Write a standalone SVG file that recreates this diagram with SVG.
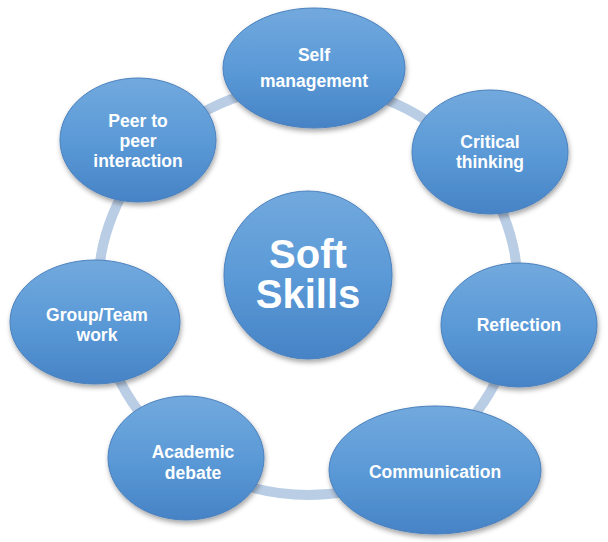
<svg xmlns="http://www.w3.org/2000/svg" width="608" height="542" viewBox="0 0 608 542">
<defs>
<linearGradient id="g" x1="0" y1="0" x2="0" y2="1">
<stop offset="0" stop-color="#72a9dd"/>
<stop offset="0.5" stop-color="#5b9ad7"/>
<stop offset="1" stop-color="#4683c6"/>
</linearGradient>
<filter id="sh" x="-20%" y="-20%" width="140%" height="140%"><feDropShadow dx="1" dy="3" stdDeviation="2.5" flood-color="#000" flood-opacity="0.35"/></filter>
</defs>
<style>
.n{fill:url(#g);stroke:#4a80bd;stroke-width:1;filter:url(#sh)}
.t{font-family:"Liberation Sans",Arial,sans-serif;font-weight:bold;font-size:17.5px;fill:#fff;text-anchor:middle}
.c{font-size:40px}
</style>
<rect width="608" height="542" fill="#fff"/>
<g id="connectors"><ellipse cx="308" cy="290" rx="210" ry="205" fill="none" stroke="#b9cde5" stroke-width="10"/></g>
<g id="center"><circle class="n" cx="308" cy="275" r="84"/><text class="t c" x="308" y="268">Soft</text><text class="t c" x="308" y="308">Skills</text></g>
<g id="self"><ellipse class="n" cx="314" cy="68" rx="91" ry="60"/><text class="t" x="314" y="61">Self</text><text class="t" x="314" y="87">management</text></g>
<g id="critical"><ellipse class="n" cx="490" cy="152" rx="78" ry="62"/><text class="t" x="490" y="148">Critical</text><text class="t" x="490" y="168">thinking</text></g>
<g id="reflection"><ellipse class="n" cx="519" cy="325" rx="78" ry="62"/><text class="t" x="519" y="331">Reflection</text></g>
<g id="communication"><ellipse class="n" cx="435" cy="470" rx="106" ry="64"/><text class="t" x="435" y="478">Communication</text></g>
<g id="academic"><ellipse class="n" cx="186" cy="458" rx="78" ry="62"/><text class="t" x="193" y="458">Academic</text><text class="t" x="193" y="479">debate</text></g>
<g id="group"><ellipse class="n" cx="95" cy="322" rx="85" ry="62"/><text class="t" x="97" y="321">Group/Team</text><text class="t" x="97" y="341">work</text></g>
<g id="peer"><ellipse class="n" cx="138" cy="140" rx="78" ry="62"/><text class="t" x="138" y="127">Peer to</text><text class="t" x="138" y="147">peer</text><text class="t" x="138" y="167">interaction</text></g>
</svg>
